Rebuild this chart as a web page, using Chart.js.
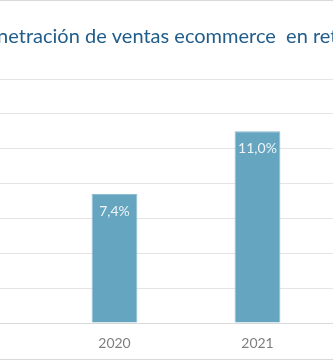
<!DOCTYPE html>
<html>
<head>
<meta charset="utf-8">
<script src="https://cdn.jsdelivr.net/npm/chart.js@4"></script>
<style>
  html, body { margin: 0; padding: 0; background: #fff; }
  #frame {
    position: relative;
    width: 333px;
    height: 360px;
    overflow: hidden;
    box-sizing: border-box;
    border-top: 1px solid #d9d9d9;
    border-bottom: 1px solid #d9d9d9;
  }
  #wrap { position: absolute; left: -140px; top: 0; width: 612px; height: 358px; }
</style>
</head>
<body>
<div id="frame">
  <div id="wrap"><canvas id="grafico"></canvas></div>
</div>
<script>
// años (los extremos quedan fuera del recorte)
const anios = ['2019', '2020', '2021', '2022'];
// penetración ecommerce en retail, %
const penetracion = [null, 7.4, 11.0, null];
const titulo = 'Penetración de ventas ecommerce  en retail';

const etiquetasValor = {
	id: 'etiquetasValor',
	afterDatasetsDraw(chart) {
		const ctx = chart.ctx;
		const meta = chart.getDatasetMeta(0);
		ctx.save();
		ctx.fillStyle = '#eef4f7';
		ctx.font = '14px Lato';
		ctx.textAlign = 'center';
		ctx.textBaseline = 'middle';
		meta.data.forEach((bar, i) => {
			const v = penetracion[i];
			if (v === null) return;
			ctx.fillText(v.toFixed(1).replace('.', ',') + '%', bar.x, bar.y + 17);
		});
		ctx.restore();
	}
};

new Chart(document.getElementById('grafico'), {
	type: 'bar',
	data: {
		labels: anios,
		datasets: [{
			data: penetracion,
			backgroundColor: '#65a5c0',
			borderColor: '#8dbcd0',
			borderWidth: 1,
			barPercentage: 0.32,
			categoryPercentage: 1
		}]
	},
	options: {
		responsive: true,
		maintainAspectRatio: false,
		animation: false,
		layout: { padding: 0 },
		plugins: {
			legend: { display: false },
			tooltip: { enabled: false },
			title: {
				display: true,
				text: titulo,
				color: '#215d8a',
				font: { family: 'Lato', size: 20, weight: 'normal' },
				padding: { top: 24, bottom: 30 }
			}
		},
		scales: {
			x: {
				grid: { display: false, drawTicks: false },
				border: { color: '#d9d9d9' },
				ticks: { color: '#7f7f7f', font: { family: 'Lato', size: 14 }, padding: 12, maxRotation: 0 },
				afterFit(scale) { scale.height = 36; }
			},
			y: {
				min: 0,
				max: 14,
				ticks: { stepSize: 2, display: false },
				grid: { color: '#e4e4e4', drawTicks: false },
				border: { display: false },
				afterFit(scale) { scale.width = 40; }
			}
		}
	},
	plugins: [etiquetasValor]
});
</script>
</body>
</html>
